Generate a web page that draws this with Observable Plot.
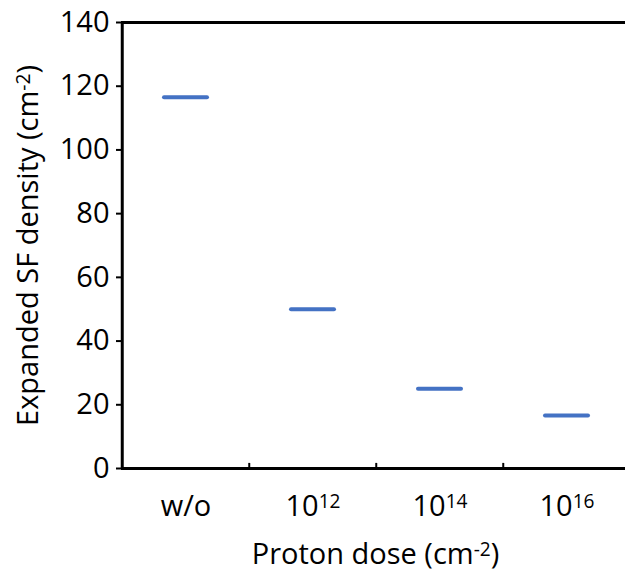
<!DOCTYPE html>
<html>
<head>
<meta charset="utf-8">
<script src="https://cdn.jsdelivr.net/npm/d3@7"></script>
<script src="https://cdn.jsdelivr.net/npm/@observablehq/plot@0.6"></script>
<style>
  html, body { margin: 0; padding: 0; background: #fff; }
  #chart { width: 625px; height: 573px; overflow: hidden; }
</style>
</head>
<body>
<div id="chart"></div>
<script>
// Data
const categories = ["w/o", "10^{12}", "10^{14}", "10^{16}"];
const sfDensity = [116.5, 50, 25, 16.6];
const yTicks = [0, 20, 40, 60, 80, 100, 120, 140];
const boundaryCats = ["10^{12}", "10^{14}", "10^{16}"];
const xTitle = "Proton dose (cm^{-2})";
const yTitle = "Expanded SF density (cm^{-2})";

const data = categories.map((c, i) => ({cat: c, value: sfDensity[i]}));

const FONT = "'Open Sans', 'Noto Sans', sans-serif";
const bandStep = (631 - 121) / categories.length;

const chart = Plot.plot({
  width: 625,
  height: 573,
  marginLeft: 121,
  marginRight: 0,
  marginTop: 22,
  marginBottom: 105,
  style: {fontFamily: FONT, fontSize: "29px", color: "#000", background: "#fff"},
  x: {domain: categories, range: [121, 631], padding: 0},
  y: {domain: [0, 140]},
  marks: [
    Plot.axisY({ticks: yTicks, tickSize: 5, tickPadding: 7, strokeWidth: 2, fontSize: 29, label: null}),
    Plot.axisX({tickSize: 0, tickPadding: 27, fontSize: 29, label: null}),
    Plot.text([yTitle], {frameAnchor: "left", rotate: -90, dx: -93, fontSize: 29, fill: "#000",
      textAnchor: "middle", lineAnchor: "middle"}),
    Plot.text([xTitle], {frameAnchor: "bottom", dy: 86, dx: 2, fontSize: 29, fill: "#000",
      textAnchor: "middle", lineAnchor: "middle"}),
    // inner boundary ticks on x axis
    Plot.ruleX(boundaryCats, {x: d => d, y1: 0, y2: 1.6, dx: -bandStep / 2, strokeWidth: 2, stroke: "#000"}),
    // left axis line
    Plot.ruleX([categories[0]], {x: d => d, y1: 0, y2: 140, dx: -bandStep / 2, strokeWidth: 3, stroke: "#000"}),
    Plot.ruleY([0, 140], {strokeWidth: 3, stroke: "#000"}),
    Plot.tickY(data, {x: "cat", y: "value", stroke: "#4472C4", strokeWidth: 4,
      strokeLinecap: "round", insetLeft: 42, insetRight: 42})
  ]
});

// render ^{...} as real superscripts
function supify(root) {
  const ns = "http://www.w3.org/2000/svg";
  root.querySelectorAll("text").forEach(t => {
    const s = t.textContent;
    if (!s.includes("^{")) return;
    const parts = s.split(/(\^\{[^}]*\})/).filter(p => p.length);
    while (t.firstChild) t.removeChild(t.firstChild);
    let raised = false;
    parts.forEach(p => {
      const sp = document.createElementNS(ns, "tspan");
      if (p.startsWith("^{")) {
        sp.textContent = p.slice(2, -1);
        sp.setAttribute("font-size", "66%");
        sp.setAttribute("dy", "-0.42em");
        raised = true;
      } else {
        sp.textContent = p;
        if (raised) { sp.setAttribute("dy", "0.277em"); raised = false; }
      }
      t.appendChild(sp);
    });
  });
}
supify(chart);
document.getElementById("chart").appendChild(chart);
</script>
</body>
</html>
